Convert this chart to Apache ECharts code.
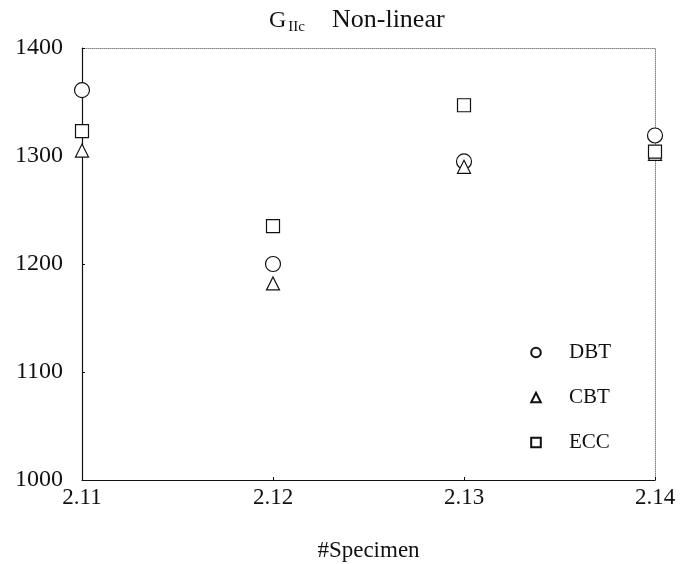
<!DOCTYPE html>
<html>
<head>
<meta charset="utf-8">
<script src="https://cdn.jsdelivr.net/npm/echarts@6/dist/echarts.min.js"></script>
<style>html,body{margin:0;padding:0;background:#fff;}#c{width:693px;height:564px;}</style>
</head>
<body>
<div id="c"></div>
<script>
const categories = ['2.11', '2.12', '2.13', '2.14'];
const dbt = [1361, 1200, 1295, 1319];
const cbt = [1305, 1182, 1290, 1302];
const ecc = [1323, 1235, 1347, 1304];
const yTicks = [1000, 1100, 1200, 1300, 1400];

const font = 'Liberation Serif, Times New Roman, serif';
const chart = echarts.init(document.getElementById('c'));
const mk = (name, symbol, size, data) => ({
  name, type: 'line', data, symbol, symbolSize: size,
  lineStyle: { opacity: 0 }, showSymbol: true,
  itemStyle: { color: '#fff', borderColor: '#111', borderWidth: 1.2 },
  emphasis: { disabled: true }, z: 5
});
chart.setOption({
  animation: false,
  backgroundColor: '#fff',
  title: {
    text: '{g|G}{s|IIc}{n|Non-linear}',
    left: 264, top: -5,
    textStyle: {
      fontWeight: 'normal',
      rich: {
        g: { fontFamily: font, fontSize: 24, fontWeight: 'normal', color: '#111', padding: [6, 0, 0, 0] },
        s: { fontFamily: font, fontSize: 15, fontWeight: 'normal', color: '#111', padding: [20, 0, 0, 2] },
        n: { fontFamily: font, fontSize: 26, fontWeight: 'normal', color: '#111', padding: [6, 0, 0, 27] }
      }
    }
  },
  legend: {
    orient: 'vertical', left: 529, top: 342, padding: 0,
    itemWidth: 12, itemHeight: 12, itemGap: 24,
    textStyle: { fontFamily: font, fontSize: 21, color: '#111', padding: [0, 0, 0, 22] },
    data: ['DBT', 'CBT', 'ECC']
  },
  grid: { left: 82, right: 38, top: 48, bottom: 84, containLabel: false, outerBoundsMode: 'none' },
  xAxis: [{
    type: 'category', data: categories, boundaryGap: false,
    axisLine: { lineStyle: { color: '#111', width: 1.2 } },
    axisTick: { show: true, inside: true, length: 3, lineStyle: { color: '#111' } },
    axisLabel: { fontFamily: font, fontSize: 23, color: '#111', margin: 6 },
    name: '#Specimen', nameLocation: 'middle', nameGap: 59,
    nameTextStyle: { fontFamily: font, fontSize: 23, color: '#111' },
    splitLine: { show: false }
  }, {
    type: 'category', data: categories, boundaryGap: false, position: 'top',
    axisLine: { lineStyle: { color: '#888', type: 'dotted', width: 1 } },
    axisTick: { show: false }, axisLabel: { show: false }, splitLine: { show: false }
  }],
  yAxis: [{
    type: 'value', min: yTicks[0], max: yTicks[yTicks.length - 1], interval: 100,
    axisLine: { show: true, lineStyle: { color: '#111', width: 1.2 } },
    axisTick: { show: true, inside: true, length: 3, lineStyle: { color: '#111' } },
    axisLabel: { fontFamily: font, fontSize: 24, color: '#111', margin: 19, formatter: v => String(v) },
    splitLine: { show: false }
  }, {
    type: 'value', min: yTicks[0], max: yTicks[yTicks.length - 1], interval: 100, position: 'right',
    axisLine: { show: true, lineStyle: { color: '#888', type: 'dotted', width: 1 } },
    axisTick: { show: false }, axisLabel: { show: false }, splitLine: { show: false }
  }],
  series: [
    mk('DBT', 'circle', 15, dbt),
    mk('CBT', 'triangle', 13, cbt),
    mk('ECC', 'rect', 13, ecc)
  ]
});
</script>
</body>
</html>
